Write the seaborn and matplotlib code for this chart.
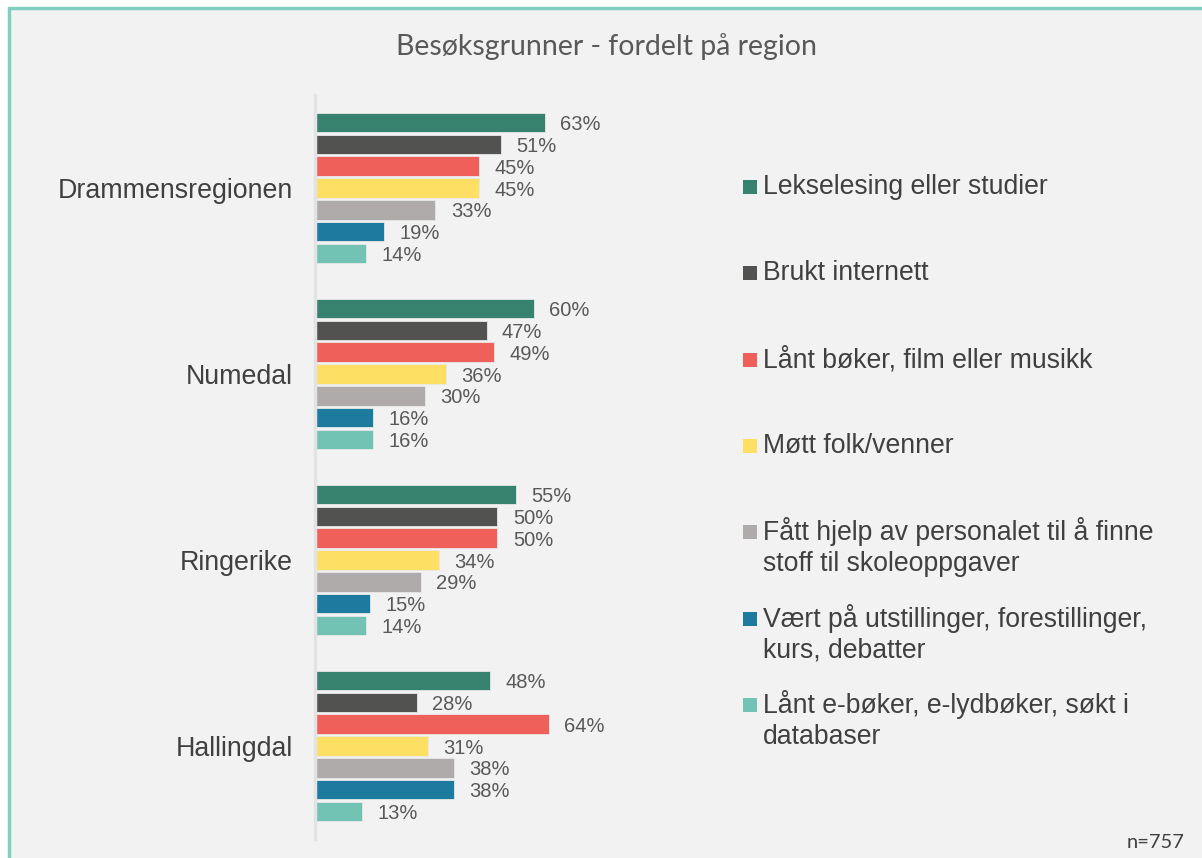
"""
Besøksgrunner - fordelt på region
Horizontal grouped bar chart with a manual legend on the right.
"""

import pandas as pd
import matplotlib
matplotlib.use("Agg")
import matplotlib.pyplot as plt
from matplotlib.patches import Rectangle
import seaborn as sns

# -----------------------------
# Data
# -----------------------------
regions = ["Drammensregionen", "Numedal", "Ringerike", "Hallingdal"]

reasons = [
    "Lekselesing eller studier",
    "Brukt internett",
    "Lånt bøker, film eller musikk",
    "Møtt folk/venner",
    "Fått hjelp av personalet til å finne\nstoff til skoleoppgaver",
    "Vært på utstillinger, forestillinger,\nkurs, debatter",
    "Lånt e-bøker, e-lydbøker, søkt i\ndatabaser",
]

drammensregionen = [63, 51, 45, 45, 33, 19, 14]
numedal = [60, 47, 49, 36, 30, 16, 16]
ringerike = [55, 50, 50, 34, 29, 15, 14]
hallingdal = [48, 28, 64, 31, 38, 38, 13]

colors = ["#36826f", "#525350", "#f0605a", "#fddf63",
          "#afabaa", "#1e7ba0", "#72c3b3"]

sample_note = "n=757"
title = "Besøksgrunner - fordelt på region"

# -----------------------------
# Long-form table
# -----------------------------
rows = []
for region, vals in zip(regions, [drammensregionen, numedal, ringerike, hallingdal]):
    for reason, v in zip(reasons, vals):
        rows.append({"region": region, "reason": reason, "pct": v})
df = pd.DataFrame(rows)

# -----------------------------
# Plot
# -----------------------------
sns.set_style("white")
plt.rcParams["font.family"] = ["Liberation Sans", "DejaVu Sans"]

bg = "#f2f2f2"
fig = plt.figure(figsize=(12.02, 8.58), dpi=100, facecolor="white")

# panel background and teal frame (top/left only visible)
fig.patches.append(Rectangle((9 / 1202, 0), 1, 1 - 8 / 858, transform=fig.transFigure,
                             facecolor=bg, edgecolor="none", zorder=-2))
fig.add_artist(plt.Line2D([9 / 1202, 9 / 1202], [0, 1 - 8 / 858], transform=fig.transFigure,
                          color="#7fd0bf", lw=2.5))
fig.add_artist(plt.Line2D([9 / 1202, 1], [1 - 8 / 858, 1 - 8 / 858], transform=fig.transFigure,
                          color="#7fd0bf", lw=2.5))

ax = fig.add_axes([315 / 1202, 1 - 839 / 858, (680 - 315) / 1202, (839 - 95) / 858])
ax.set_facecolor("none")

sns.barplot(data=df, x="pct", y="region", hue="reason", order=regions,
            hue_order=reasons, palette=colors, saturation=1, orient="h", width=0.82,
            gap=0.1, legend=False, ax=ax, edgecolor="#e8e8e8", linewidth=0.6)

for cont in ax.containers:
    texts = ax.bar_label(cont, labels=[f"{v:.0f}%" for v in cont.datavalues],
                         padding=11, fontsize=14.5, color="#595959")
    for t in texts:
        t.set_va("center_baseline")

ax.set_xlim(0, 100)
ax.set_xlabel("")
ax.set_ylabel("")
ax.set_xticks([])
ax.tick_params(axis="y", length=0, pad=16, labelsize=19.3, labelcolor="#404040")
for s in ["top", "right", "bottom"]:
    ax.spines[s].set_visible(False)
ax.spines["left"].set_color("#e3e3e3")
ax.spines["left"].set_linewidth(2.5)

# title and note
fig.text(606 / 1202, 1 - 47 / 858, title, ha="center", va="center",
         fontsize=20.5, color="#595959", family=["Lato", "DejaVu Sans"])
fig.text(1185 / 1202, 1 - 843 / 858, sample_note, ha="right", va="center",
         fontsize=14.5, color="#404040", family=["Lato", "DejaVu Sans"])

# manual legend
legend_y = [187, 273, 360, 446, 547, 634, 720]
for y, label, c in zip(legend_y, reasons, colors):
    nlines = label.count("\n") + 1
    sq_y = y - (nlines - 1) * 15
    fig.patches.append(Rectangle((743 / 1202, 1 - (sq_y + 7) / 858), 14 / 1202, 14 / 858,
                                 transform=fig.transFigure, facecolor=c, edgecolor="none"))
    fig.text(763 / 1202, 1 - y / 858, label, ha="left", va="center",
             fontsize=19.2, color="#404040", linespacing=1.22)

plt.savefig("out.png", dpi=100, facecolor="white")
